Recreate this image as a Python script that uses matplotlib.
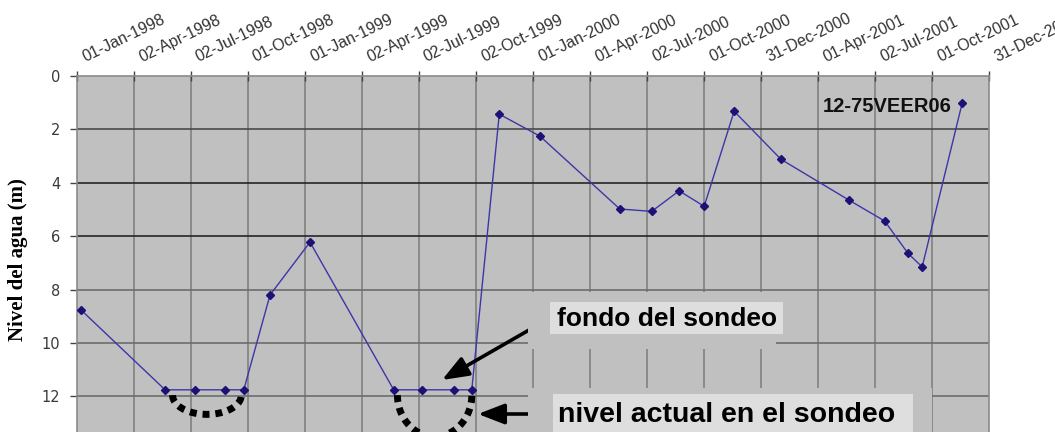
import matplotlib
matplotlib.use('Agg')
import matplotlib.pyplot as plt
import matplotlib.transforms as mtrans
from matplotlib.patches import Rectangle
import numpy as np
import pandas as pd

# ---------------- data ----------------
dates = ['1998-01-07', '1998-05-22', '1998-07-09', '1998-08-26', '1998-09-25',
         '1998-11-06', '1999-01-09', '1999-05-23', '1999-07-07', '1999-08-27',
         '1999-09-25', '1999-11-08', '2000-01-12', '2000-05-19', '2000-07-09',
         '2000-08-22', '2000-10-01', '2000-11-18', '2001-02-01', '2001-05-21',
         '2001-07-17', '2001-08-23', '2001-09-15', '2001-11-18']
levels = [8.75, 11.75, 11.75, 11.75, 11.75,
          8.2, 6.22, 11.75, 11.75, 11.75,
          11.75, 1.43, 2.25, 4.98, 5.07,
          4.3, 4.88, 1.32, 3.12, 4.65,
          5.43, 6.63, 7.15, 1.02]
tick_labels = ['01-Jan-1998', '02-Apr-1998', '02-Jul-1998', '01-Oct-1998',
               '01-Jan-1999', '02-Apr-1999', '02-Jul-1999', '02-Oct-1999',
               '01-Jan-2000', '01-Apr-2000', '02-Jul-2000', '01-Oct-2000',
               '31-Dec-2000', '01-Apr-2001', '02-Jul-2001', '01-Oct-2001',
               '31-Dec-2001']
y_ticks = [0, 2, 4, 6, 8, 10, 12]
# dotted "current level" arcs: (start, end, depth in m)
arc_spans = [('1998-06-03', '1998-09-21', 0.72), ('1999-05-29', '1999-09-25', 1.55)]
station = '12-75VEER06'
ylabel = 'Nivel del agua (m)'
note1 = 'fondo del sondeo'
note2 = 'nivel actual en el sondeo'

# ---------------- figure ----------------
W, H = 1055, 432
fig = plt.figure(figsize=(W / 100, H / 100), dpi=100)
L, R, T = 77, 989, 76
ax = fig.add_axes([L / W, 0, (R - L) / W, (H - T) / H])
ax.set_facecolor('#c0c0c0')

x = pd.to_datetime(dates)
ticks = pd.to_datetime(tick_labels, format='%d-%b-%Y')
ax.set_xlim(ticks[0], ticks[-1])
ax.set_ylim(13.33, 0)

# grid
for t in ticks[1:-1]:
    ax.axvline(t, color='#7c7c7c', lw=1.1, zorder=0.5)
hcols = {2: '#4a4a4a', 4: '#262626', 6: '#262626', 8: '#6c6c6c', 10: '#6c6c6c', 12: '#6c6c6c'}
for yv in y_ticks[1:]:
    ax.axhline(yv, color=hcols[yv], lw=1.2, zorder=0.6)

# data
ax.plot(x, levels, color='#3c36a8', lw=1.0, marker='D', ms=3.6,
        mfc='#1c1276', mec='#1c1276', zorder=3)

# dotted arcs
y0 = 11.95
for s, e, d in arc_spans:
    s, e = pd.Timestamp(s), pd.Timestamp(e)
    c = s + (e - s) / 2
    h = (e - s) / 2
    th = np.linspace(-np.pi / 2, np.pi / 2, 60)
    ax_x = [c + h * float(np.sin(a)) for a in th]
    ax_y = y0 + d * np.cos(th)
    ax.plot(ax_x, ax_y, color='black', lw=5.0, dashes=(1.0, 0.85),
            dash_capstyle='butt', zorder=2.5)

# axes styling
ax.set_xticks(ticks)
ax.set_xticklabels([])
ax.xaxis.tick_top()
ax.tick_params(axis='x', top=True, bottom=False, direction='inout', length=7,
               color='#444444', width=1)
ax.set_yticks(y_ticks)
ax.set_yticklabels([str(v) for v in y_ticks], fontsize=10.5, color='#3a3a3a')
ax.tick_params(axis='y', direction='out', length=5, pad=7, color='#444444', width=1)
for sp in ['top', 'left', 'right']:
    ax.spines[sp].set_color('#8a8a8a')
    ax.spines[sp].set_linewidth(1.2)
ax.spines['bottom'].set_visible(False)

# rotated x labels at top
off = mtrans.ScaledTranslation(8 / 100, 14 / 100, fig.dpi_scale_trans)
for t, lab in zip(ticks, tick_labels):
    ax.text(t, 1, lab, transform=ax.get_xaxis_transform() + off, rotation=26,
            rotation_mode='anchor', ha='left', va='baseline', fontsize=11.5,
            color='#333333', family='Liberation Sans', clip_on=False)

# y label
fig.text(18 / W, 1 - 260 / H, ylabel, rotation=90, ha='center', va='center',
         family='Liberation Serif', fontweight='bold', fontsize=15)

# station label
ax.text(0.8885, 0.915, station, transform=ax.transAxes, ha='center', va='center',
        family='Liberation Sans', fontweight='bold', fontsize=14.5, color='#111111')


def frect(x0, y0p, x1, y1p, fc):
    fig.add_artist(Rectangle((x0 / W, 1 - y1p / H), (x1 - x0) / W, (y1p - y0p) / H,
                             transform=fig.transFigure, fc=fc, ec='none', zorder=1))


# covers (edited image regions) and text boxes
frect(528, 292, 776, 349, '#c0c0c0')
frect(528, 388, 932, 433, '#c0c0c0')
frect(550, 302, 783, 334, '#dedede')
frect(553, 394, 913, 433, '#dedede')
fig.text(557 / W, 1 - 326 / H, note1, ha='left', va='baseline', fontsize=19,
         fontweight='bold', family='Liberation Sans', zorder=2)
fig.text(558 / W, 1 - 422 / H, note2, ha='left', va='baseline', fontsize=20.5,
         fontweight='bold', family='Liberation Sans', zorder=2)

# arrows
ap = dict(arrowstyle='-|>,head_length=1.6,head_width=0.62', lw=2.6, color='black',
          shrinkA=0, shrinkB=0, mutation_scale=10)
a1 = ax.annotate('', xy=(442 / W, 1 - 380 / H), xytext=(543 / W, 1 - 322 / H),
                 xycoords='figure fraction', textcoords='figure fraction', arrowprops=ap)
a2 = ax.annotate('', xy=(478 / W, 1 - 414 / H), xytext=(544 / W, 1 - 414 / H),
                 xycoords='figure fraction', textcoords='figure fraction', arrowprops=ap)
for a in (a1, a2):
    a.set_zorder(5)
    a.set_clip_on(False)

fig.savefig('out.png', dpi=100)
